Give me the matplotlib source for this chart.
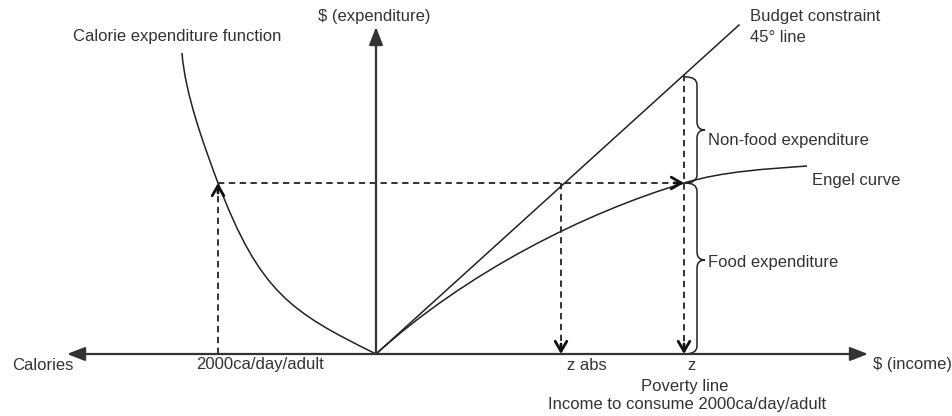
import matplotlib
matplotlib.use("Agg")
import matplotlib.pyplot as plt
from matplotlib.path import Path
from matplotlib.patches import PathPatch

plt.rcParams['font.family'] = ['Liberation Sans', 'DejaVu Sans']

# diagram coordinates (origin where both axes meet)
# curves given as cubic Bezier anchors/control points
calorie_x = [0, -85, -116, -158, -173, -191, -194]
calorie_y = [0, 42, 61, 171, 211, 261, 301]

engel_x = [0, 90, 208, 308, 348, 391, 431]
engel_y = [0, 81.5, 141, 171, 183, 185, 188]

budget_x = [0, 363]
budget_y = [0, 329]

kcal_2000 = -158   # 2000 ca/day/adult on the calorie axis
z_abs = 185
z = 308
food_level = 171
budget_at_z = z * budget_y[1] / budget_x[1]

x_left, x_right, y_top = -309, 492, 327

fig = plt.figure(figsize=(9.52, 4.16), dpi=100)
ax = fig.add_axes([0, 0, 1, 1])
ax.set_xlim(-376, 576)
ax.set_ylim(-62, 354)
ax.axis('off')

# axes with arrows
axis_style = dict(arrowstyle='-|>,head_length=0.9,head_width=0.35', lw=1.6,
                  color='#333333', shrinkA=0, shrinkB=0, mutation_scale=12)
ax.annotate('', xy=(x_right, 0), xytext=(0, 0), arrowprops=axis_style)
ax.annotate('', xy=(x_left, 0), xytext=(0, 0), arrowprops=axis_style)
ax.annotate('', xy=(0, y_top), xytext=(0, 0), arrowprops=axis_style)


def bezier(xs, ys):
    codes = [Path.MOVETO] + [Path.CURVE4] * (len(xs) - 1)
    ax.add_patch(PathPatch(Path(list(zip(xs, ys)), codes), fill=False,
                           lw=1.1, color='#222222'))


bezier(calorie_x, calorie_y)
bezier(engel_x, engel_y)
ax.plot(budget_x, budget_y, color='#222222', lw=1.1)

# dashed guides
dash = dict(color='#222222', lw=1.3, linestyle=(0, (3.5, 2.5)))
ax.plot([kcal_2000, kcal_2000], [0, food_level - 4], **dash)
ax.plot([kcal_2000, z - 4], [food_level, food_level], **dash)
ax.plot([z_abs, z_abs], [food_level, 4], **dash)
ax.plot([z, z], [budget_at_z, 4], **dash)

head = dict(arrowstyle='->,head_length=0.6,head_width=0.35', lw=2.0,
            color='#111111', shrinkA=0, shrinkB=0, mutation_scale=12)
ax.annotate('', xy=(kcal_2000, food_level), xytext=(kcal_2000, food_level - 10), arrowprops=head)
ax.annotate('', xy=(z, food_level), xytext=(z - 10, food_level), arrowprops=head)
ax.annotate('', xy=(z_abs, 0), xytext=(z_abs, 10), arrowprops=head)
ax.annotate('', xy=(z, 0), xytext=(z, 10), arrowprops=head)


def brace(x0, ytop, ybot, ytip, w=20, r=8):
    xm = x0 + 12
    verts = [(x0, ytop), (xm, ytop), (xm, ytop - r),
             (xm, ytip + r),
             (xm, ytip), (x0 + w, ytip),
             (xm, ytip), (xm, ytip - r),
             (xm, ybot + r),
             (xm, ybot), (x0, ybot)]
    codes = [Path.MOVETO, Path.CURVE3, Path.CURVE3,
             Path.LINETO,
             Path.CURVE3, Path.CURVE3,
             Path.CURVE3, Path.CURVE3,
             Path.LINETO,
             Path.CURVE3, Path.CURVE3]
    ax.add_patch(PathPatch(Path(verts, codes), fill=False, lw=1.1, color='#222222'))


brace(z + 1, budget_at_z - 2, food_level, 224)
brace(z + 1, food_level, 0, 94)

fs = 12
tc = '#333333'
ax.text(-58, 338, '$ (expenditure)', fontsize=fs, color=tc, va='center')
ax.text(-303, 317, 'Calorie expenditure function', fontsize=fs, color=tc, va='center')
ax.text(374, 338, 'Budget constraint', fontsize=fs, color=tc, va='center')
ax.text(374, 317, '45° line', fontsize=fs, color=tc, va='center')
ax.text(332, 214, 'Non-food expenditure', fontsize=fs, color=tc, va='center')
ax.text(436, 173, 'Engel curve', fontsize=fs, color=tc, va='center')
ax.text(332, 92, 'Food expenditure', fontsize=fs, color=tc, va='center')
ax.text(-364, -11, 'Calories', fontsize=fs, color=tc, va='center')
ax.text(-116, -11, '2000ca/day/adult', fontsize=fs, color=tc, va='center', ha='center')
ax.text(211, -11, 'z abs', fontsize=fs, color=tc, va='center', ha='center')
ax.text(316, -11, 'z', fontsize=fs, color=tc, va='center', ha='center')
ax.text(497, -11, '$ (income)', fontsize=fs, color=tc, va='center')
ax.text(309, -33, 'Poverty line', fontsize=fs, color=tc, va='center', ha='center')
ax.text(311, -51, 'Income to consume 2000ca/day/adult', fontsize=fs, color=tc,
        va='center', ha='center')

fig.savefig('out.png', dpi=100)
